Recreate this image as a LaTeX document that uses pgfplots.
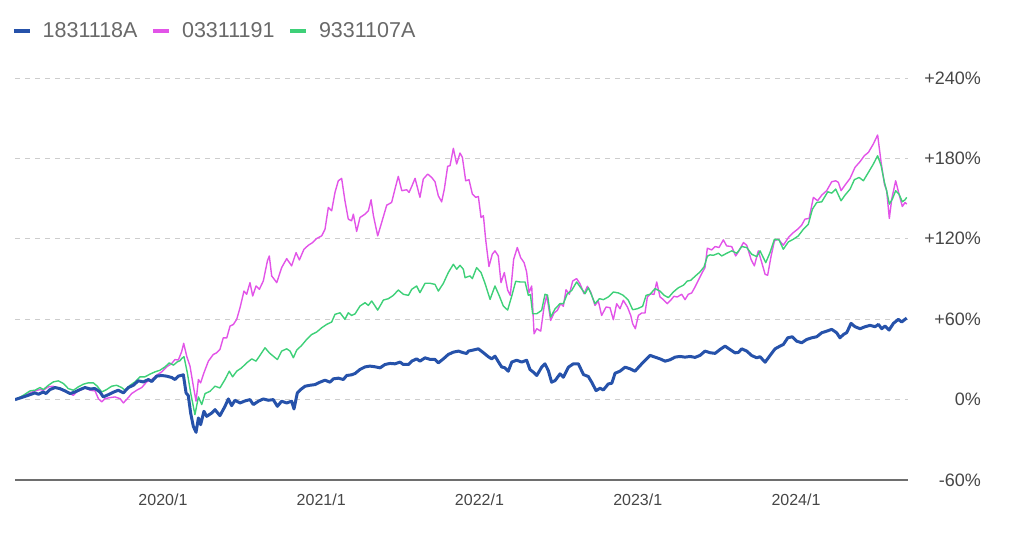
\documentclass[border=0pt]{standalone}
\usepackage{fontspec}
\setmainfont{Liberation Sans}
\usepackage{pgfplots}
\pgfplotsset{compat=1.18}
\definecolor{cblue}{RGB}{38,82,170}
\definecolor{cmag}{RGB}{226,84,232}
\definecolor{cgreen}{RGB}{62,208,120}
\definecolor{tickgray}{RGB}{70,70,70}
\definecolor{leggray}{RGB}{105,105,105}
\definecolor{gridgray}{RGB}{205,205,205}
\definecolor{axgray}{RGB}{110,110,110}
\begin{document}
\begin{tikzpicture}
\path[use as bounding box] (0,0) rectangle (1024pt,542pt);
\begin{axis}[
  at={(15pt,62pt)}, anchor=south west,
  scale only axis, width=893pt, height=402pt,
  xmin=2019.065, xmax=2024.708,
  ymin=-60, ymax=240,
  axis x line*=bottom, axis y line*=right,
  x axis line style={draw=axgray, line width=1.5pt, -},
  y axis line style={draw=none},
  major tick length=0pt,
  xtick={2020,2021,2022,2023,2024},
  xticklabels={2020/1,2021/1,2022/1,2023/1,2024/1},
  ytick={-60,0,60,120,180,240},
  yticklabels={-60\%,0\%,+60\%,+120\%,+180\%,+240\%},
  xticklabel style={font=\fontsize{16}{18}\selectfont, text=tickgray, anchor=north, yshift=-10pt},
  yticklabel style={font=\fontsize{18}{20}\selectfont, text=tickgray, anchor=east, inner xsep=0pt, xshift=73pt},
  ymajorgrids,
  grid style={draw=gridgray, line width=1pt, dash pattern=on 5pt off 5pt},
  legend columns=3,
  legend style={at={(0,1)}, anchor=west, yshift=47pt, xshift=-3pt, draw=none, fill=none,
    inner sep=0pt, font=\fontsize{21.5}{23}\selectfont, text=leggray,
    /tikz/every odd column/.append style={column sep=9pt},
    /tikz/every even column/.append style={column sep=12pt}},
  legend image code/.code={\draw[#1, line width=3.5pt] (0pt,0pt) -- (16pt,0pt);},
  legend cell align=left,
]
\addlegendimage{cblue}
\addlegendentry{1831118A}
\addlegendimage{cmag}
\addlegendentry{03311191}
\addlegendimage{cgreen}
\addlegendentry{9331107A}
\addplot[forget plot, cmag, line width=1.4pt, line join=round] coordinates {
(2019.065,0) (2019.118,2.5) (2019.160,5.0) (2019.191,6.5) (2019.223,7.5) (2019.244,7.0) (2019.276,9.5) (2019.307,10) (2019.339,8.2) (2019.371,6.5) (2019.402,5.0) (2019.434,3.2) (2019.455,5.7) (2019.486,7.5) (2019.507,9.0) (2019.539,7.0) (2019.571,6.5) (2019.592,0.7) (2019.613,-1.7) (2019.634,0.7) (2019.665,1.5) (2019.697,2.0) (2019.729,0.7) (2019.750,-2.5) (2019.781,1.5) (2019.802,4.5) (2019.834,7.0) (2019.866,9.0) (2019.897,13.2) (2019.929,15) (2019.960,18.2) (2019.992,20.7) (2020.023,24.4) (2020.055,26.9) (2020.076,29.9) (2020.097,29.5) (2020.118,35.7) (2020.131,42) (2020.150,32.4) (2020.171,24.9) (2020.192,10) (2020.209,-1.2) (2020.224,15) (2020.238,12.5) (2020.259,20) (2020.287,28.7) (2020.318,33.7) (2020.339,34.9) (2020.360,37.4) (2020.381,46.1) (2020.403,46) (2020.424,54.9) (2020.445,56.1) (2020.466,59.9) (2020.487,68.6) (2020.512,81) (2020.529,78.6) (2020.550,87.3) (2020.567,77.3) (2020.588,84.8) (2020.609,82.3) (2020.634,88.5) (2020.660,103.5) (2020.672,107.2) (2020.687,92.3) (2020.719,87.3) (2020.750,98.5) (2020.782,105.2) (2020.813,99.8) (2020.841,109.7) (2020.862,104.2) (2020.891,112.2) (2020.919,115.2) (2020.946,117.2) (2020.971,120.2) (2021.003,122.2) (2021.024,127.2) (2021.045,143.4) (2021.066,140.9) (2021.087,154.6) (2021.108,163.3) (2021.129,165.1) (2021.150,148.4) (2021.171,134.7) (2021.192,133.4) (2021.203,138.4) (2021.224,125.5) (2021.245,135.9) (2021.277,138.4) (2021.298,140.9) (2021.315,149.1) (2021.330,137.2) (2021.357,122.2) (2021.382,132.2) (2021.414,145.1) (2021.445,147.1) (2021.466,157.1) (2021.487,166.6) (2021.509,155.9) (2021.540,156.6) (2021.555,154.6) (2021.572,159.1) (2021.593,165.1) (2021.624,150.9) (2021.645,164.6) (2021.673,168.3) (2021.698,165.8) (2021.719,162.6) (2021.740,152.1) (2021.761,147.6) (2021.778,157.1) (2021.799,174.1) (2021.814,174.6) (2021.835,187.5) (2021.856,175.8) (2021.877,184) (2021.892,180.8) (2021.913,163.3) (2021.934,164.1) (2021.955,153.4) (2021.976,150.9) (2021.993,151.6) (2022.010,135.9) (2022.025,137.2) (2022.039,119.7) (2022.060,99.3) (2022.081,108.5) (2022.098,111) (2022.119,107.2) (2022.136,87.3) (2022.157,94.8) (2022.178,81.8) (2022.195,77.8) (2022.216,104.7) (2022.239,113.5) (2022.260,106) (2022.282,102.2) (2022.298,95.3) (2022.313,79.8) (2022.330,84.8) (2022.345,49.1) (2022.362,52.9) (2022.387,51.1) (2022.408,69.1) (2022.425,77.8) (2022.450,59.1) (2022.471,64.6) (2022.492,66.6) (2022.513,71.6) (2022.530,69.6) (2022.547,82) (2022.568,78.6) (2022.589,88.5) (2022.614,90.3) (2022.635,86.5) (2022.661,79) (2022.682,84.5) (2022.703,80.3) (2022.730,70.3) (2022.751,73.6) (2022.772,62.8) (2022.800,69.1) (2022.825,68.6) (2022.846,59.6) (2022.867,71.6) (2022.888,67.8) (2022.909,74.1) (2022.935,69.1) (2022.956,62.8) (2022.968,56.6) (2022.985,52.9) (2023.004,62.8) (2023.025,64.6) (2023.046,64.6) (2023.061,76.6) (2023.082,79) (2023.103,78.5) (2023.120,87.8) (2023.141,76.6) (2023.162,74.6) (2023.187,71.6) (2023.208,74.1) (2023.229,77.1) (2023.250,76.6) (2023.278,78.6) (2023.299,74.6) (2023.320,78.6) (2023.341,79.6) (2023.362,84) (2023.383,89) (2023.404,94) (2023.425,98.5) (2023.440,113) (2023.468,111.7) (2023.489,114.2) (2023.514,113.5) (2023.541,119.2) (2023.562,114.7) (2023.594,114.2) (2023.619,107.2) (2023.636,110.2) (2023.668,117.2) (2023.689,115.2) (2023.716,104.7) (2023.737,99.8) (2023.762,111) (2023.784,102.2) (2023.805,93.5) (2023.821,92.8) (2023.843,107.2) (2023.864,118.5) (2023.889,119.7) (2023.920,115.2) (2023.952,120.9) (2023.984,124.7) (2024.011,127.2) (2024.036,130.2) (2024.057,134.7) (2024.083,135.2) (2024.110,150.9) (2024.137,148.4) (2024.163,152.6) (2024.194,155.9) (2024.226,162.6) (2024.251,163.3) (2024.268,162.1) (2024.285,155.9) (2024.310,160.1) (2024.342,165.1) (2024.373,173.3) (2024.405,177.6) (2024.432,182) (2024.458,184.5) (2024.489,190.8) (2024.516,197.5) (2024.538,177.1) (2024.559,160.8) (2024.573,155.9) (2024.590,135.2) (2024.605,149.6) (2024.630,163.3) (2024.651,153.4) (2024.672,144.1) (2024.689,147.1) (2024.700,145.9)
};
\addplot[forget plot, cgreen, line width=1.4pt, line join=round] coordinates {
(2019.065,0) (2019.118,3.2) (2019.160,6.5) (2019.191,7.0) (2019.223,9.0) (2019.244,7.5) (2019.276,10.7) (2019.307,13.2) (2019.339,14) (2019.371,12) (2019.402,8.2) (2019.434,7.0) (2019.465,9.5) (2019.497,11.5) (2019.528,12.5) (2019.560,12.5) (2019.585,10) (2019.613,5.7) (2019.644,7.5) (2019.676,10) (2019.707,10.7) (2019.739,9.0) (2019.760,7.0) (2019.792,10.7) (2019.823,13.2) (2019.855,17) (2019.886,17) (2019.918,19) (2019.950,20.7) (2019.981,21.9) (2020.013,24.4) (2020.040,27.4) (2020.066,25.7) (2020.091,28.2) (2020.108,29) (2020.118,30.7) (2020.133,32) (2020.154,20) (2020.175,5) (2020.202,-11.2) (2020.224,2.0) (2020.245,-3.7) (2020.266,4.5) (2020.297,6.2) (2020.329,10) (2020.360,8.7) (2020.392,15) (2020.419,21.2) (2020.440,17) (2020.466,21.2) (2020.497,23.7) (2020.529,27.4) (2020.561,30.4) (2020.588,28.7) (2020.617,33.7) (2020.645,38.7) (2020.672,34.9) (2020.697,32.4) (2020.723,29.9) (2020.750,36.2) (2020.782,37.9) (2020.803,36.2) (2020.824,31.2) (2020.845,36.9) (2020.876,40.4) (2020.908,44.9) (2020.940,48.6) (2020.971,50.4) (2021.003,53.6) (2021.034,56.1) (2021.066,57.9) (2021.087,63.6) (2021.119,64.8) (2021.150,59.9) (2021.171,64.8) (2021.192,62.8) (2021.214,64) (2021.245,69.8) (2021.277,72.3) (2021.298,70.3) (2021.319,73.6) (2021.357,66.8) (2021.393,74.3) (2021.424,75.3) (2021.456,77.8) (2021.487,81.8) (2021.519,78.6) (2021.551,77.8) (2021.572,82.3) (2021.603,84.8) (2021.624,79.8) (2021.656,86.8) (2021.688,86.8) (2021.719,86) (2021.740,81) (2021.772,86.8) (2021.803,94.8) (2021.835,101) (2021.856,97.3) (2021.877,100.2) (2021.898,97.3) (2021.909,91) (2021.940,92.3) (2021.955,90.3) (2021.982,98.5) (2022.010,94.8) (2022.035,86.8) (2022.067,74.8) (2022.098,84.8) (2022.124,77.8) (2022.151,69.8) (2022.178,66.8) (2022.204,77.3) (2022.229,88.3) (2022.256,87.8) (2022.288,87.8) (2022.309,77.8) (2022.322,78.5) (2022.336,64.1) (2022.362,64.1) (2022.393,66.6) (2022.414,78.6) (2022.430,78) (2022.450,61.6) (2022.478,67.8) (2022.509,71.6) (2022.530,71.6) (2022.555,79) (2022.583,81.5) (2022.614,87.8) (2022.640,83.5) (2022.667,79) (2022.688,83.5) (2022.709,77.8) (2022.730,71.6) (2022.758,75.3) (2022.783,74.6) (2022.814,76.6) (2022.846,80.3) (2022.878,79.6) (2022.909,77.8) (2022.941,74.1) (2022.968,67.1) (2022.998,67.8) (2023.031,69.6) (2023.053,77.8) (2023.078,78.6) (2023.109,82.8) (2023.141,81) (2023.167,77.8) (2023.194,76.1) (2023.225,80.3) (2023.257,83.5) (2023.288,85.3) (2023.314,88.5) (2023.335,89) (2023.362,92) (2023.394,95.3) (2023.419,99) (2023.440,107) (2023.457,108) (2023.478,107.7) (2023.510,109.2) (2023.531,107.2) (2023.562,109.2) (2023.594,111) (2023.626,109.2) (2023.657,114.2) (2023.689,113.5) (2023.720,108.5) (2023.752,106.7) (2023.773,111) (2023.809,102.2) (2023.836,109.7) (2023.864,119.7) (2023.893,119.2) (2023.920,112.2) (2023.952,117.7) (2023.984,119.7) (2024.015,122.2) (2024.047,127.2) (2024.078,130.9) (2024.104,142.1) (2024.131,147.1) (2024.163,147.6) (2024.201,155.1) (2024.226,154.1) (2024.251,157.1) (2024.285,148.4) (2024.310,152.6) (2024.342,157.1) (2024.369,164.1) (2024.399,165.8) (2024.426,163.3) (2024.458,169.6) (2024.489,175.8) (2024.516,182) (2024.538,174.6) (2024.559,162.1) (2024.573,155.9) (2024.590,145.9) (2024.609,149.6) (2024.630,155.9) (2024.651,153.4) (2024.672,147.6) (2024.689,149.1) (2024.700,150.9)
};
\addplot[forget plot, cblue, line width=3pt, line join=round] coordinates {
(2019.065,0) (2019.118,2.0) (2019.160,3.7) (2019.191,5.0) (2019.213,4.0) (2019.244,5.7) (2019.261,4.5) (2019.286,7.5) (2019.318,9.0) (2019.349,8.2) (2019.381,6.5) (2019.413,4.5) (2019.444,5.7) (2019.476,7.5) (2019.507,9.0) (2019.539,8.0) (2019.571,8.2) (2019.602,5.7) (2019.623,2.0) (2019.655,3.7) (2019.686,5.5) (2019.718,7.0) (2019.750,5.0) (2019.781,9.0) (2019.813,10.7) (2019.844,14.0) (2019.876,13.2) (2019.908,15.0) (2019.929,13.5) (2019.960,17.5) (2019.992,18.0) (2020.023,17.5) (2020.055,16.5) (2020.076,15.0) (2020.097,17.5) (2020.129,18.5) (2020.146,5.0) (2020.160,3.0) (2020.175,-10) (2020.192,-20) (2020.209,-24.4) (2020.224,-13.7) (2020.238,-18.7) (2020.259,-8.7) (2020.276,-12.5) (2020.308,-10) (2020.329,-7.5) (2020.360,-12.0) (2020.392,-5.0) (2020.413,0.5) (2020.434,-4.5) (2020.455,-0.5) (2020.487,-2.5) (2020.518,-1.0) (2020.550,0) (2020.571,-3.7) (2020.603,-1.2) (2020.634,0.5) (2020.666,-0.5) (2020.697,0) (2020.723,-5.0) (2020.750,-1.2) (2020.782,-2.5) (2020.813,-1.2) (2020.828,-7.0) (2020.849,5.0) (2020.870,7.5) (2020.898,10.0) (2020.929,10.7) (2020.961,11.2) (2020.992,13.0) (2021.024,14.5) (2021.055,13.0) (2021.077,15.5) (2021.108,16.0) (2021.140,15.0) (2021.161,18.0) (2021.192,18.5) (2021.214,19.5) (2021.245,22.5) (2021.277,24.4) (2021.308,25) (2021.340,24.5) (2021.372,23.7) (2021.403,26.2) (2021.435,27) (2021.466,26.7) (2021.498,28) (2021.519,26.2) (2021.551,26.2) (2021.572,28.7) (2021.603,30.4) (2021.624,28.7) (2021.656,31.2) (2021.688,30) (2021.719,30) (2021.740,27.4) (2021.772,30.4) (2021.803,33.7) (2021.835,35.4) (2021.867,36.2) (2021.898,35) (2021.919,34.4) (2021.930,36.2) (2021.961,37) (2021.993,37.9) (2022.025,35) (2022.056,32) (2022.077,30.4) (2022.098,32.4) (2022.124,27.4) (2022.140,24.4) (2022.161,23.7) (2022.182,21.2) (2022.204,28) (2022.235,29.4) (2022.267,28) (2022.298,29.4) (2022.319,22.5) (2022.340,20.5) (2022.362,18) (2022.393,24.2) (2022.414,26.7) (2022.435,21.7) (2022.456,13) (2022.478,14.2) (2022.509,19.2) (2022.530,16.7) (2022.562,24.2) (2022.593,26.7) (2022.625,26.7) (2022.657,18.7) (2022.688,17.2) (2022.709,13) (2022.737,6.7) (2022.762,8.5) (2022.783,7.2) (2022.814,11.7) (2022.836,12.2) (2022.857,19.7) (2022.888,21.2) (2022.920,24.2) (2022.951,23) (2022.983,21.2) (2023.015,25.4) (2023.046,29.2) (2023.078,33) (2023.109,31.7) (2023.141,30.4) (2023.173,28.7) (2023.204,29.7) (2023.236,31.7) (2023.267,32.2) (2023.299,31.7) (2023.331,32.2) (2023.362,31.5) (2023.394,33) (2023.425,36.2) (2023.457,35) (2023.489,34.5) (2023.520,37.4) (2023.552,39.9) (2023.583,37.4) (2023.615,34.9) (2023.636,35.2) (2023.657,37.9) (2023.689,36.2) (2023.720,32.9) (2023.752,31.2) (2023.773,32) (2023.805,27.9) (2023.836,32.9) (2023.868,37.9) (2023.899,39.9) (2023.920,41.1) (2023.948,46.1) (2023.977,46.9) (2024.005,43.6) (2024.036,42.4) (2024.068,44.9) (2024.099,46.1) (2024.131,46.9) (2024.163,49.9) (2024.194,51.1) (2024.226,52.4) (2024.257,49.9) (2024.278,46.1) (2024.300,48.6) (2024.321,50) (2024.348,56.9) (2024.373,54.4) (2024.405,52.9) (2024.437,54.4) (2024.468,55.4) (2024.500,54.4) (2024.521,56.1) (2024.542,52.9) (2024.563,54.9) (2024.588,51.9) (2024.616,56.9) (2024.647,59.9) (2024.668,57.9) (2024.689,59.9) (2024.700,60.8)
};
\end{axis}
\end{tikzpicture}
\end{document}
